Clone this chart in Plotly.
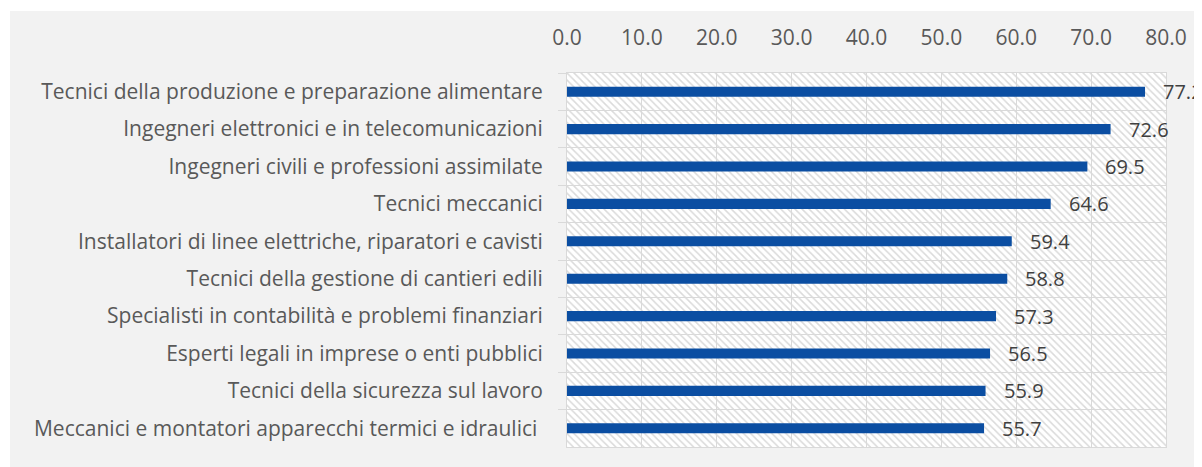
import plotly.graph_objects as go

categories = [
    "Tecnici della produzione e preparazione alimentare",
    "Ingegneri elettronici e in telecomunicazioni",
    "Ingegneri civili e professioni assimilate",
    "Tecnici meccanici",
    "Installatori di linee elettriche, riparatori e cavisti",
    "Tecnici della gestione di cantieri edili",
    "Specialisti in contabilità e problemi finanziari",
    "Esperti legali in imprese o enti pubblici",
    "Tecnici della sicurezza sul lavoro",
    "Meccanici e montatori apparecchi termici e idraulici\u00a0",
]
values = [77.2, 72.6, 69.5, 64.6, 59.4, 58.8, 57.3, 56.5, 55.9, 55.7]
x_ticks = [0, 10, 20, 30, 40, 50, 60, 70, 80]
x_ticktext = ["0.0", "10.0", "20.0", "30.0", "40.0", "50.0", "60.0", "70.0", "80.0"]

W, H = 1202, 467
L, R, T, B = 559, 44, 65, 28
PW, PH = W - L - R, H - T - B

FONT = "Open Sans"
FS = 21
LABEL_COLOR = "#595959"
GRID = "#d9d9d9"
BLUE = "#0B4EA2"
X_MAX = x_ticks[-1]

fig = go.Figure()
# hatched plot-area background (one full-width band per category)
fig.add_trace(go.Bar(
    x=[X_MAX] * len(categories), y=categories, orientation="h",
    width=1, hoverinfo="skip",
    marker=dict(
        color="rgba(0,0,0,0)", line=dict(width=0),
        pattern=dict(shape="\\", fillmode="replace", bgcolor="rgba(0,0,0,0)",
                     fgcolor="#dadada", size=5, solidity=0.3),
    ),
))
fig.add_trace(go.Bar(
    x=values, y=categories, orientation="h",
    marker=dict(color=BLUE, line=dict(width=0)),
    width=0.27, hoverinfo="x+y",
))

for v, c in zip(values, categories):
    fig.add_annotation(
        x=v, y=c, xref="x", yref="y", text=f"{v:.1f}", showarrow=False,
        xanchor="left", yanchor="middle", xshift=16,
        font=dict(family=FONT, size=20, color="#404040"),
    )


def px2paper_x(px):
    return (px - L) / PW


def px2paper_y(py):
    return (H - B - py) / PH


fig.add_shape(
    type="rect", xref="paper", yref="paper",
    x0=px2paper_x(2), x1=px2paper_x(W + 5),
    y0=px2paper_y(H + 5), y1=px2paper_y(3),
    fillcolor="#f2f2f2", line=dict(width=0), layer="below",
)
fig.add_shape(
    type="rect", xref="paper", yref="paper", x0=0, x1=1, y0=0, y1=1,
    fillcolor="#ffffff", line=dict(width=0), layer="below",
)

fig.update_layout(
    width=W, height=H,
    margin=dict(l=L, r=R, t=T, b=B, pad=0),
    paper_bgcolor="#ffffff", plot_bgcolor="rgba(0,0,0,0)",
    showlegend=False,
    barmode="overlay",
    font=dict(family=FONT, size=FS, color=LABEL_COLOR),
    xaxis=dict(
        side="top", range=[0, X_MAX], tickvals=x_ticks, ticktext=x_ticktext,
        showgrid=True, gridcolor=GRID, gridwidth=1, zeroline=False,
        showline=True, linecolor=GRID, linewidth=1, mirror=True,
        ticks="", ticklabelstandoff=19,
        tickfont=dict(family=FONT, size=FS, color=LABEL_COLOR),
    ),
    yaxis=dict(
        type="category", autorange="reversed", tickson="boundaries",
        showgrid=True, gridcolor=GRID, gridwidth=1,
        showline=True, linecolor=GRID, linewidth=1, mirror=True,
        ticks="outside", ticklen=8, tickcolor=GRID, tickwidth=1,
        ticklabelstandoff=19,
        tickfont=dict(family=FONT, size=FS, color=LABEL_COLOR),
    ),
)

fig.write_html("out.html")
